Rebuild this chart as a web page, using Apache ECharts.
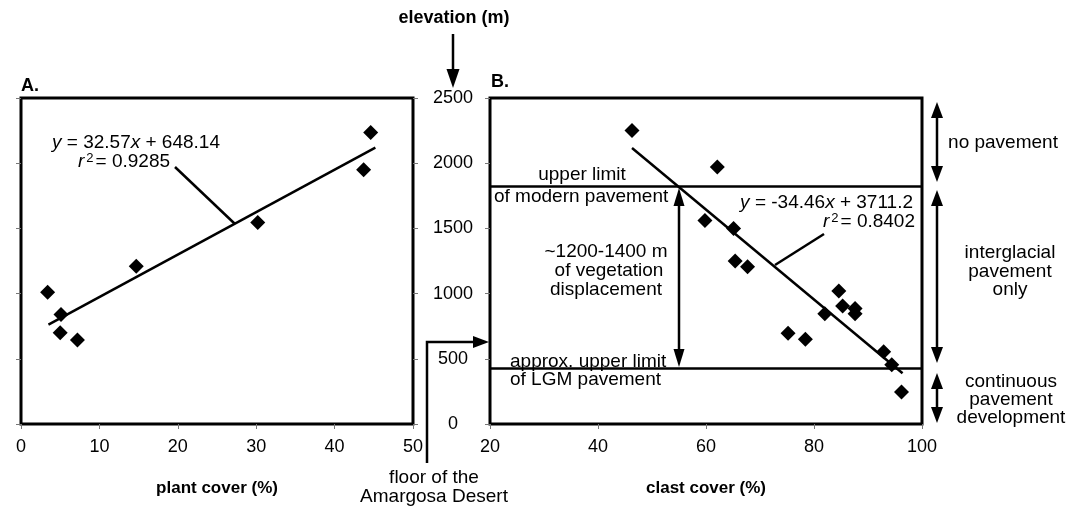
<!DOCTYPE html>
<html><head><meta charset="utf-8">
<script src="https://cdn.jsdelivr.net/npm/echarts/dist/echarts.min.js"></script>
<style>html,body{margin:0;background:#fff}#c{width:1084px;height:512px}</style>
</head><body><div id="c"></div>
<script>
// Panel A: plant cover vs elevation
const plantCover = [3.4, 5.1, 5.0, 7.2, 14.7, 30.2, 43.7, 44.6];
const elevationA = [1010, 840, 700, 645, 1210, 1545, 1950, 2235];
// Panel B: clast cover vs elevation
const clastCover = [46.3, 62.1, 59.8, 65.1, 65.4, 67.7, 84.6, 85.3, 87.6, 87.6, 82.0, 75.2, 78.4, 92.9, 94.4, 96.2];
const elevationB = [2250, 1970, 1560, 1500, 1250, 1205, 1020, 905, 885, 845, 845, 695, 650, 555, 455, 245];
// Regression line end points
const trendA = [[3.5, 762], [45.2, 2120]];
const trendB = [[46.3, 2116], [96.4, 389]];
// Pavement limit elevations (m)
const pavementLimits = [1820, 430];
// axis ranges
const xRangeA = [0, 50, 10];
const xRangeB = [20, 100, 20];
const yRange = [0, 2500, 500];

const FONT = "'Liberation Sans', Arial, Helvetica, sans-serif";
const FS = 19;
const chart = echarts.init(document.getElementById('c'), null, {renderer: 'canvas'});

function pairs(xs, ys) { return xs.map((x, i) => [x, ys[i]]); }

const tick = {show: true, length: 5, lineStyle: {color: '#777', width: 1}};
const lbl = {color: '#000', fontSize: 18, fontFamily: FONT, formatter: v => String(v)};

function txt(x, y, text, opts) {
  return Object.assign({type: 'text', x: x, y: y, z: 100, style: Object.assign({
    text: text, fill: '#000', fontSize: FS, fontFamily: FONT,
    textAlign: 'center', textVerticalAlign: 'middle'}, opts || {})});
}
function line(pts, w) {
  return {type: 'polyline', z: 100, shape: {points: pts}, style: {stroke: '#000', lineWidth: w || 2, fill: null}};
}
function head(tipX, tipY, dir, w, h) {
  let pts;
  if (dir === 'up') pts = [[tipX, tipY], [tipX - w / 2, tipY + h], [tipX + w / 2, tipY + h]];
  else if (dir === 'down') pts = [[tipX, tipY], [tipX - w / 2, tipY - h], [tipX + w / 2, tipY - h]];
  else pts = [[tipX, tipY], [tipX - h, tipY - w / 2], [tipX - h, tipY + w / 2]];
  return {type: 'polygon', z: 100, shape: {points: pts}, style: {fill: '#000'}};
}
function dbl(x, y1, y2, w, h) {
  return [line([[x, y1 + h - 2], [x, y2 - h + 2]], 2.5), head(x, y1, 'up', w, h), head(x, y2, 'down', w, h)];
}

const italic = {fontStyle: 'italic', fontSize: FS, fontFamily: FONT};
const sup = {fontSize: 13, fontFamily: FONT, verticalAlign: 'top', padding: [0, 2, 8, 2]};
const rich = {i: italic, s: sup, n: {fontSize: FS, fontFamily: FONT}};

const graphics = [
  txt(454, 18, 'elevation (m)', {fontWeight: 'bold', fontSize: 18}),
  line([[453, 34], [453, 72]], 2.5), head(453, 88, 'down', 13, 19),
  txt(21, 86, 'A.', {fontWeight: 'bold', textAlign: 'left', fontSize: 18}),
  txt(491, 82, 'B.', {fontWeight: 'bold', textAlign: 'left', fontSize: 18}),
  // equation A
  {type: 'text', x: 52, y: 143, z: 100, style: {text: '{i|y}{n| = 32.57}{i|x}{n| + 648.14}', rich: rich, textVerticalAlign: 'middle', fill: '#000'}},
  {type: 'text', x: 78, y: 162, z: 100, style: {text: '{i|r}{s|2}{n|= 0.9285}', rich: rich, textVerticalAlign: 'middle', fill: '#000'}},
  line([[175, 167], [235, 224]], 2.5),
  // equation B
  {type: 'text', x: 913, y: 203, z: 100, style: {text: '{i|y}{n| = -34.46}{i|x}{n| + 3711.2}', rich: rich, textAlign: 'right', textVerticalAlign: 'middle', fill: '#000'}},
  {type: 'text', x: 915, y: 222, z: 100, style: {text: '{i|r}{s|2}{n|= 0.8402}', rich: rich, textAlign: 'right', textVerticalAlign: 'middle', fill: '#000'}},
  line([[824, 234], [775, 265]], 2.5),
  // panel B annotations
  txt(582, 175, 'upper limit'),
  txt(494, 197, 'of modern pavement', {textAlign: 'left'}),
  txt(606, 252, '~1200-1400 m'),
  txt(609, 271, 'of vegetation'),
  txt(606, 290, 'displacement'),
  txt(510, 362, 'approx. upper limit', {textAlign: 'left'}),
  txt(510, 380, 'of LGM pavement', {textAlign: 'left'}),
  ...dbl(679, 188, 367, 11, 18),
  // right side
  ...dbl(937, 102, 182, 12, 16),
  ...dbl(937, 190, 363, 12, 16),
  ...dbl(937, 373, 423, 12, 16),
  txt(1003, 143, 'no pavement'),
  txt(1010, 253, 'interglacial'),
  txt(1010, 272, 'pavement'),
  txt(1010, 290, 'only'),
  txt(1011, 382, 'continuous'),
  txt(1011, 400, 'pavement'),
  txt(1011, 418, 'development'),
  // floor of the Amargosa Desert
  line([[427, 463], [427, 342], [476, 342]], 2.5), head(489, 342, 'right', 12, 16),
  txt(434, 478, 'floor of the'),
  txt(434, 497, 'Amargosa Desert')
];

const option = {
  animation: false,
  backgroundColor: '#fff',
  textStyle: {fontFamily: FONT},
  grid: [
    {left: 21, top: 98, width: 392, height: 326, show: true, borderColor: '#000', borderWidth: 3},
    {left: 490, top: 98, width: 432, height: 326, show: true, borderColor: '#000', borderWidth: 3}
  ],
  xAxis: [
    {gridIndex: 0, type: 'value', min: xRangeA[0], max: xRangeA[1], interval: xRangeA[2],
     axisLine: {show: false}, axisTick: tick, splitLine: {show: false},
     axisLabel: Object.assign({margin: 14}, lbl),
     name: 'plant cover (%)', nameLocation: 'middle', nameGap: 56,
     nameTextStyle: {color: '#000', fontSize: 17, fontWeight: 'bold', fontFamily: FONT}},
    {gridIndex: 1, type: 'value', min: xRangeB[0], max: xRangeB[1], interval: xRangeB[2],
     axisLine: {show: false}, axisTick: tick, splitLine: {show: false},
     axisLabel: Object.assign({margin: 14}, lbl),
     name: 'clast cover (%)', nameLocation: 'middle', nameGap: 56,
     nameTextStyle: {color: '#000', fontSize: 17, fontWeight: 'bold', fontFamily: FONT}}
  ],
  yAxis: [
    {gridIndex: 0, type: 'value', min: yRange[0], max: yRange[1], interval: yRange[2], position: 'left',
     axisLine: {show: false}, axisTick: tick, splitLine: {show: false}, axisLabel: {show: false}},
    {gridIndex: 0, type: 'value', min: yRange[0], max: yRange[1], interval: yRange[2], position: 'right',
     axisLine: {show: false}, axisTick: tick, splitLine: {show: false}, axisLabel: {show: false}},
    {gridIndex: 1, type: 'value', min: yRange[0], max: yRange[1], interval: yRange[2], position: 'left',
     axisLine: {show: false}, axisTick: tick, splitLine: {show: false},
     axisLabel: Object.assign({margin: 37, align: 'center'}, lbl)}
  ],
  series: [
    {type: 'scatter', xAxisIndex: 0, yAxisIndex: 0, data: pairs(plantCover, elevationA),
     symbol: 'diamond', symbolSize: 15, itemStyle: {color: '#000', opacity: 1}, z: 5},
    {type: 'line', xAxisIndex: 0, yAxisIndex: 0, data: trendA, symbol: 'none',
     lineStyle: {color: '#000', width: 2.5}, z: 4},
    {type: 'scatter', xAxisIndex: 1, yAxisIndex: 2, data: pairs(clastCover, elevationB),
     symbol: 'diamond', symbolSize: 15, itemStyle: {color: '#000', opacity: 1}, z: 5},
    {type: 'line', xAxisIndex: 1, yAxisIndex: 2, data: trendB, symbol: 'none',
     lineStyle: {color: '#000', width: 2.5}, z: 4,
     markLine: {silent: true, symbol: 'none', label: {show: false},
       lineStyle: {color: '#000', width: 2.5, type: 'solid'},
       data: pavementLimits.map(v => ({yAxis: v}))}}
  ],
  graphic: graphics
};
chart.setOption(option);
</script></body></html>
